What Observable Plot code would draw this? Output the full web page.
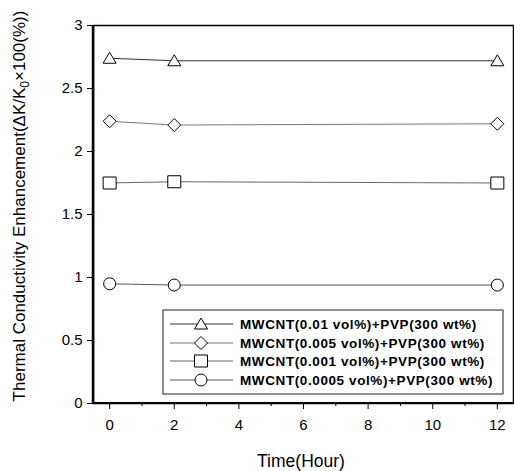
<!DOCTYPE html>
<html>
<head>
<meta charset="utf-8">
<script src="https://cdn.jsdelivr.net/npm/d3@7"></script>
<script src="https://cdn.jsdelivr.net/npm/@observablehq/plot@0.6"></script>
<style>
  html, body { margin: 0; padding: 0; background: #fff; }
  svg { display: block; }
</style>
</head>
<body>
<div id="chart"></div>
<script>
// ---- data ----
const hours = [0, 2, 12];
const seriesNames = [
  "MWCNT(0.01 vol%)+PVP(300 wt%)",
  "MWCNT(0.005 vol%)+PVP(300 wt%)",
  "MWCNT(0.001 vol%)+PVP(300 wt%)",
  "MWCNT(0.0005 vol%)+PVP(300 wt%)"
];
const vals001 = [2.74, 2.72, 2.72];
const vals0005 = [2.24, 2.21, 2.22];
const vals0001 = [1.75, 1.76, 1.75];
const vals00005 = [0.95, 0.94, 0.94];
const yTicks = [0, 0.5, 1, 1.5, 2, 2.5, 3];
const xTicks = [0, 2, 4, 6, 8, 10, 12];
const xMinorTicks = [1, 3, 5, 7, 9, 11];

// ---- symbols ----
const symTri = {draw(c) { c.moveTo(0, -6); c.lineTo(6.5, 5); c.lineTo(-6.5, 5); c.closePath(); }};
const symDia = {draw(c) { c.moveTo(0, -6.5); c.lineTo(6.5, 0); c.lineTo(0, 6.5); c.lineTo(-6.5, 0); c.closePath(); }};
const symSq = {draw(c) { c.moveTo(-6.5, -6); c.lineTo(6.5, -6); c.lineTo(6.5, 6); c.lineTo(-6.5, 6); c.closePath(); }};
const symCir = {draw(c) { c.moveTo(6, 0); c.arc(0, 0, 6, 0, 2 * Math.PI); }};

const seriesVals = [vals001, vals0005, vals0001, vals00005];
const symbols = [symTri, symDia, symSq, symCir];
const lineColors = ["#333", "#777", "#666", "#555"];

const table = seriesVals.map((vals, i) => hours.map((h, j) => ({series: seriesNames[i], hour: h, value: vals[j]})));

const font = "'Liberation Sans', Arial, sans-serif";

const marks = [];
table.forEach((rows, i) => {
  marks.push(Plot.line(rows, {x: "hour", y: "value", stroke: lineColors[i], strokeWidth: 1}));
});
table.forEach((rows, i) => {
  marks.push(Plot.dot(rows, {x: "hour", y: "value", symbol: symbols[i], r: 6, fill: "white", stroke: "black", strokeWidth: 1}));
});

const plot = Plot.plot({
  width: 514,
  height: 471,
  marginLeft: 93,
  marginRight: 1,
  marginTop: 25,
  marginBottom: 68,
  style: {fontFamily: font, fontSize: "15px", color: "black", background: "white"},
  x: {domain: [-0.5, 12.5], label: null},
  y: {domain: [0, 3], label: null},
  marks: [
    ...marks,
    Plot.frame({stroke: "black", strokeWidth: 1.5}),
    Plot.axisY(yTicks, {tickSize: 6, tickPadding: 5, tickFormat: d => String(d), fontSize: 15, label: null}),
    Plot.axisX(xTicks, {tickSize: 6, tickPadding: 10, tickFormat: d => String(d), fontSize: 15, label: null}),
    Plot.axisX(xMinorTicks, {tickSize: 3, tickFormat: () => "", label: null})
  ]
});

document.getElementById("chart").appendChild(plot);

const svg = d3.select(plot);

// thicker left and bottom axis lines
svg.append("line").attr("x1", 93).attr("x2", 93).attr("y1", 25).attr("y2", 403)
  .attr("stroke", "black").attr("stroke-width", 2.5);
svg.append("line").attr("x1", 92).attr("x2", 514).attr("y1", 403).attr("y2", 403)
  .attr("stroke", "black").attr("stroke-width", 2);

// y axis label
const yl = svg.append("text")
  .attr("transform", "translate(25,206) rotate(-90)")
  .attr("text-anchor", "middle")
  .attr("font-family", font)
  .attr("font-size", 17)
  .attr("fill", "black");
yl.append("tspan").text("Thermal Conductivity Enhancement(\u0394K/K");
yl.append("tspan").attr("font-size", 12).attr("dy", 4).text("0");
yl.append("tspan").attr("dy", -4).text("\u00D7100(%))");

// x axis label
svg.append("text")
  .attr("x", 301).attr("y", 467)
  .attr("text-anchor", "middle")
  .attr("font-family", font)
  .attr("font-size", 17.5)
  .attr("fill", "black")
  .text("Time(Hour)");

// legend
const lg = svg.append("g");
lg.append("rect").attr("x", 163).attr("y", 310).attr("width", 340).attr("height", 84)
  .attr("fill", "white").attr("stroke", "#222").attr("stroke-width", 1);
const rowY = [324, 343, 361, 380];
seriesNames.forEach((name, i) => {
  lg.append("line").attr("x1", 170).attr("x2", 233).attr("y1", rowY[i]).attr("y2", rowY[i])
    .attr("stroke", lineColors[i]).attr("stroke-width", 1);
  lg.append("path").attr("d", d3.symbol().type(symbols[i])())
    .attr("transform", `translate(201,${rowY[i]})`)
    .attr("fill", "white").attr("stroke", "black").attr("stroke-width", 1);
  lg.append("text").attr("x", 240).attr("y", rowY[i] + 4.5)
    .attr("text-anchor", "start")
    .attr("font-family", font).attr("font-size", 13.5).attr("font-weight", "bold")
    .attr("letter-spacing", 0.6)
    .attr("fill", "black").text(name);
});
</script>
</body>
</html>
